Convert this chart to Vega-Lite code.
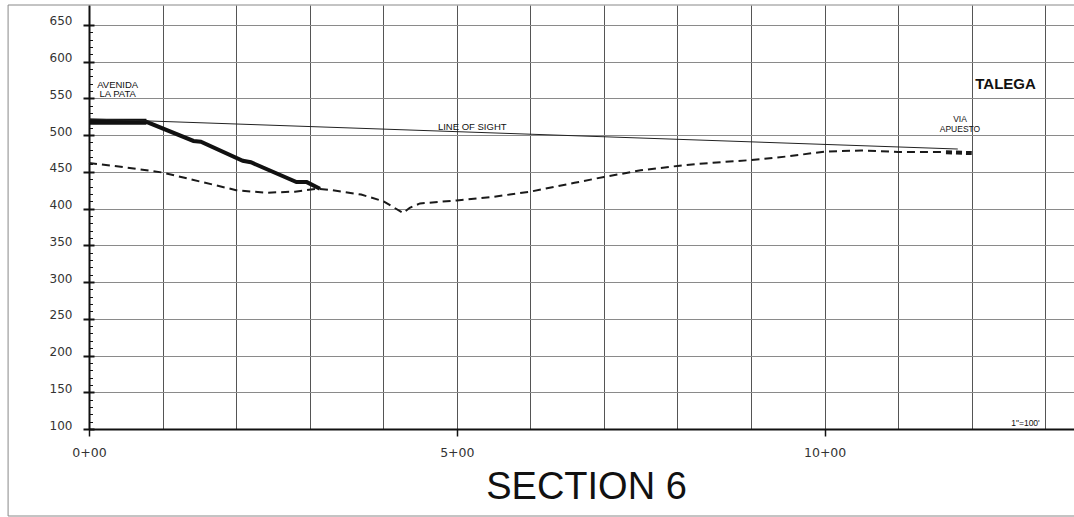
{
  "$schema": "https://vega.github.io/schema/vega-lite/v6.json",
  "width": 985,
  "height": 424,
  "autosize": {"type": "none"},
  "padding": {"left": 89, "top": 5, "right": 0, "bottom": 88},
  "background": "white",
  "config": {"view": {"stroke": null}},
  "title": {"text": "SECTION 6", "orient": "bottom", "anchor": "middle", "font": "Liberation Sans", "fontSize": 38, "fontWeight": "normal", "color": "#111", "baseline": "alphabetic", "offset": -17.5, "dx": 5},
  "datasets": {
    "frame": [{"x": -1.1, "x2": 13.8, "y": -18.4, "y2": 677}],
    "profile": [
      {"series": "ground", "station": 0, "elev": 462},
      {"series": "ground", "station": 0.5, "elev": 456},
      {"series": "ground", "station": 1, "elev": 449},
      {"series": "ground", "station": 1.5, "elev": 437},
      {"series": "ground", "station": 2, "elev": 425},
      {"series": "ground", "station": 2.4, "elev": 421.5},
      {"series": "ground", "station": 2.8, "elev": 423},
      {"series": "ground", "station": 3.1, "elev": 427},
      {"series": "ground", "station": 3.3, "elev": 425},
      {"series": "ground", "station": 3.7, "elev": 419},
      {"series": "ground", "station": 4.0, "elev": 410},
      {"series": "ground", "station": 4.27, "elev": 394},
      {"series": "ground", "station": 4.36, "elev": 401},
      {"series": "ground", "station": 4.5, "elev": 407},
      {"series": "ground", "station": 5.0, "elev": 411},
      {"series": "ground", "station": 5.5, "elev": 416},
      {"series": "ground", "station": 6.0, "elev": 423},
      {"series": "ground", "station": 6.6, "elev": 435},
      {"series": "ground", "station": 7.0, "elev": 443},
      {"series": "ground", "station": 7.5, "elev": 452},
      {"series": "ground", "station": 8.0, "elev": 458},
      {"series": "ground", "station": 8.3, "elev": 461},
      {"series": "ground", "station": 9.0, "elev": 466},
      {"series": "ground", "station": 9.5, "elev": 471},
      {"series": "ground", "station": 10.0, "elev": 477.5},
      {"series": "ground", "station": 10.5, "elev": 479},
      {"series": "ground", "station": 11.0, "elev": 477},
      {"series": "ground", "station": 11.65, "elev": 477},
      {"series": "via", "station": 11.65, "elev": 476.5},
      {"series": "via", "station": 12.0, "elev": 475.5},
      {"series": "flat", "station": 0, "elev": 518},
      {"series": "flat", "station": 0.78, "elev": 518},
      {"series": "grade", "station": 0.7, "elev": 518},
      {"series": "grade", "station": 0.78, "elev": 518},
      {"series": "grade", "station": 1.42, "elev": 492},
      {"series": "grade", "station": 1.52, "elev": 491},
      {"series": "grade", "station": 2.09, "elev": 465},
      {"series": "grade", "station": 2.2, "elev": 463},
      {"series": "grade", "station": 2.82, "elev": 436},
      {"series": "grade", "station": 2.96, "elev": 436},
      {"series": "grade", "station": 3.14, "elev": 427},
      {"series": "sight", "station": 0, "elev": 522},
      {"series": "sight", "station": 11.81, "elev": 481}
    ],
    "notes": [
      {"kind": "small", "label": "AVENIDA", "station": 0.39, "elev": 568},
      {"kind": "small", "label": "LA PATA", "station": 0.39, "elev": 555.5},
      {"kind": "small", "label": "LINE OF SIGHT", "station": 5.21, "elev": 511.5},
      {"kind": "via", "label": "VIA", "station": 11.84, "elev": 522},
      {"kind": "via", "label": "APUESTO", "station": 11.84, "elev": 508.3},
      {"kind": "bold", "label": "TALEGA", "station": 12.46, "elev": 569.5},
      {"kind": "scale", "label": "1\"=100'", "station": 12.73, "elev": 107.8}
    ]
  },
  "resolve": {"axis": {"y": "independent", "x": "independent"}},
  "layer": [
    {
      "data": {"name": "frame"},
      "mark": {"type": "rect", "fill": "transparent", "stroke": "#888", "strokeWidth": 1, "clip": false},
      "encoding": {
        "x": {"field": "x", "type": "quantitative",
          "scale": {"domain": [0, 13.39], "nice": false, "zero": false},
          "axis": {"title": null, "orient": "bottom", "values": [0,1,2,3,4,5,6,7,8,9,10,11,12,13],
            "grid": true, "gridColor": "#555", "gridWidth": 1,
            "domain": false, "ticks": false, "labels": false}},
        "x2": {"field": "x2"},
        "y": {"field": "y", "type": "quantitative",
          "scale": {"domain": [100, 677], "nice": false, "zero": false},
          "axis": null},
        "y2": {"field": "y2"}
      }
    },
    {
      "data": {"name": "profile"},
      "transform": [{"filter": "datum.series === 'ground'"}],
      "mark": {"type": "line", "color": "#1a1a1a", "strokeWidth": 2, "strokeDash": [8, 5], "strokeCap": "butt"},
      "encoding": {
        "x": {"field": "station", "type": "quantitative",
          "axis": {"title": null, "orient": "bottom", "values": [0, 5, 10],
            "grid": false,
            "domain": true, "domainColor": "#111", "domainWidth": 2,
            "ticks": true, "tickColor": "#111", "tickWidth": 1.5, "tickSize": 7,
            "labelExpr": "datum.value + '+00'",
            "labelFont": "DejaVu Sans", "labelFontSize": 12.5, "labelColor": "#333",
            "labelPadding": 10, "labelFlush": false, "labelOverlap": false, "labelBound": false}},
        "y": {"field": "elev", "type": "quantitative",
          "axis": {"title": null, "orient": "left", "values": [100,150,200,250,300,350,400,450,500,550,600,650],
            "grid": true, "gridColor": "#8a8a8a", "gridWidth": 1,
            "domain": true, "domainColor": "#111", "domainWidth": 2,
            "ticks": true, "tickColor": "#111", "tickWidth": 2, "tickSize": 6,
            "labelFont": "DejaVu Sans", "labelFontSize": 12, "labelColor": "#333",
            "labelPadding": 11, "labelBaseline": "alphabetic", "labelFlush": false, "labelOverlap": false, "labelBound": false}}
      }
    },
    {
      "data": {"name": "profile"},
      "transform": [{"filter": "datum.series === 'via'"}],
      "mark": {"type": "line", "color": "#1a1a1a", "strokeWidth": 4, "strokeDash": [6, 4], "strokeCap": "butt"},
      "encoding": {
        "x": {"field": "station", "type": "quantitative", "axis": null},
        "y": {"field": "elev", "type": "quantitative", "axis": null}
      }
    },
    {
      "data": {"name": "profile"},
      "transform": [{"filter": "datum.series === 'flat'"}],
      "mark": {"type": "line", "color": "#111", "strokeWidth": 6, "strokeCap": "butt"},
      "encoding": {
        "x": {"field": "station", "type": "quantitative", "axis": null},
        "y": {"field": "elev", "type": "quantitative", "axis": null}
      }
    },
    {
      "data": {"name": "profile"},
      "transform": [{"filter": "datum.series === 'grade'"}],
      "mark": {"type": "line", "color": "#111", "strokeWidth": 4, "strokeCap": "butt", "strokeJoin": "miter"},
      "encoding": {
        "x": {"field": "station", "type": "quantitative", "axis": null},
        "y": {"field": "elev", "type": "quantitative", "axis": null}
      }
    },
    {
      "data": {"name": "profile"},
      "transform": [{"filter": "datum.series === 'sight'"}],
      "mark": {"type": "line", "color": "#222", "strokeWidth": 1},
      "encoding": {
        "x": {"field": "station", "type": "quantitative", "axis": null},
        "y": {"field": "elev", "type": "quantitative",
          "axis": {"title": null, "orient": "left",
            "values": [100,110,120,130,140,150,160,170,180,190,200,210,220,230,240,250,260,270,280,290,300,310,320,330,340,350,360,370,380,390,400,410,420,430,440,450,460,470,480,490,500,510,520,530,540,550,560,570,580,590,600,610,620,630,640,650],
            "grid": false, "domain": false, "labels": false, "ticks": true, "tickColor": "#111",
            "tickWidth": {"condition": {"test": "datum.value % 50 === 0", "value": 2}, "value": 1},
            "tickSize": {"condition": {"test": "datum.value % 50 === 0", "value": -5}, "value": -3.5}}}
      }
    },
    {
      "data": {"name": "notes"},
      "transform": [{"filter": "datum.kind === 'small'"}],
      "mark": {"type": "text", "font": "Liberation Sans", "fontSize": 9.5, "color": "#111", "align": "center", "baseline": "middle"},
      "encoding": {
        "x": {"field": "station", "type": "quantitative", "axis": null},
        "y": {"field": "elev", "type": "quantitative", "axis": null},
        "text": {"field": "label"}
      }
    },
    {
      "data": {"name": "notes"},
      "transform": [{"filter": "datum.kind === 'via'"}],
      "mark": {"type": "text", "font": "Liberation Sans", "fontSize": 8.5, "color": "#111", "align": "center", "baseline": "middle"},
      "encoding": {
        "x": {"field": "station", "type": "quantitative", "axis": null},
        "y": {"field": "elev", "type": "quantitative", "axis": null},
        "text": {"field": "label"}
      }
    },
    {
      "data": {"name": "notes"},
      "transform": [{"filter": "datum.kind === 'bold'"}],
      "mark": {"type": "text", "font": "Liberation Sans", "fontSize": 15, "fontWeight": "bold", "color": "#111", "align": "center", "baseline": "middle"},
      "encoding": {
        "x": {"field": "station", "type": "quantitative", "axis": null},
        "y": {"field": "elev", "type": "quantitative", "axis": null},
        "text": {"field": "label"}
      }
    },
    {
      "data": {"name": "notes"},
      "transform": [{"filter": "datum.kind === 'scale'"}],
      "mark": {"type": "text", "font": "Liberation Sans", "fontSize": 8.5, "color": "#111", "align": "center", "baseline": "middle"},
      "encoding": {
        "x": {"field": "station", "type": "quantitative", "axis": null},
        "y": {"field": "elev", "type": "quantitative", "axis": null},
        "text": {"field": "label"}
      }
    }
  ]
}
